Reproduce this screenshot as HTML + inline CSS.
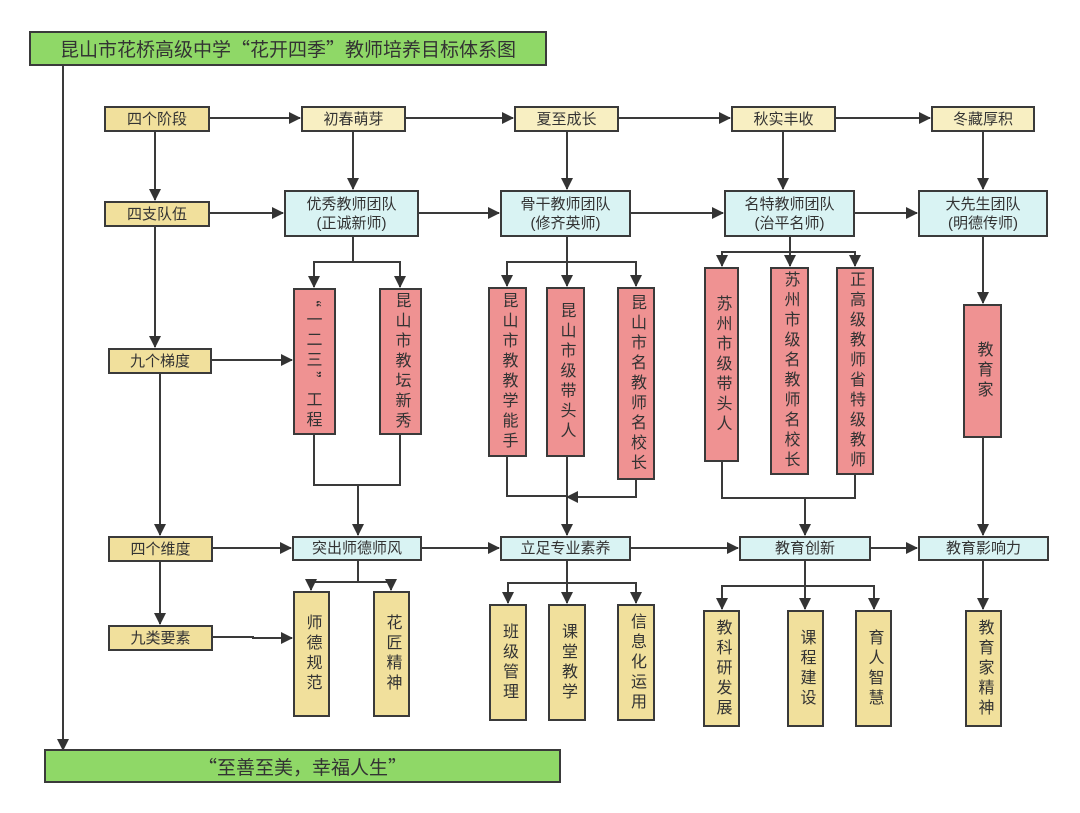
<!DOCTYPE html>
<html><head><meta charset="utf-8"><style>
body{margin:0;width:1080px;height:813px;background:#fff;position:relative;overflow:hidden;font-family:"Liberation Sans","Noto Sans CJK SC",sans-serif;color:#333}
.b{position:absolute;box-sizing:border-box;border:2px solid #3a3a3a;display:flex;align-items:center;justify-content:center;text-align:center;font-size:15px;line-height:19px}
.y{background:#f1e09c}.ly{background:#f8efc2}.c{background:#d9f3f3}.r{background:#ef9292}.g{background:#8fd867}
.v{writing-mode:vertical-rl;letter-spacing:4px;font-size:16px;white-space:nowrap;line-height:20px}
.cj{font-family:"Noto Sans CJK SC",sans-serif}
svg{position:absolute;left:0;top:0}
</style></head><body>
<svg width="1080" height="813">
<defs><marker id="a" markerWidth="12" markerHeight="12" refX="11" refY="6" orient="auto" markerUnits="userSpaceOnUse"><path d="M0,0L12,6L0,12z" fill="#333"/></marker></defs>
<g stroke="#3a3a3a" stroke-width="2" fill="none">
<path d="M314,435V485H400V435"/>
<path d="M507,457V496H567"/><path d="M636,480V497H567"/>
<path d="M722,462V498H855V475"/>
</g>
<g stroke="#3a3a3a" stroke-width="2" fill="none" marker-end="url(#a)">
<path d="M63,65V750"/>
<path d="M210,118H300"/><path d="M406,118H513"/><path d="M619,118H730"/><path d="M836,118H930"/>
<path d="M155,131V200"/><path d="M155,226V347"/><path d="M160,373V535"/><path d="M160,561V624"/>
<path d="M353,131V189"/><path d="M567,131V189"/><path d="M783,131V189"/><path d="M983,131V189"/>
<path d="M210,213H283"/><path d="M419,213H499"/><path d="M631,213H723"/><path d="M855,213H917"/>
<path d="M212,360H292"/>
<path d="M353,237V262H314V287"/><path d="M353,262H400V287"/>
<path d="M567,237V286"/><path d="M567,262H507V286"/><path d="M567,262H636V286"/>
<path d="M790,237V266"/><path d="M790,252H722V266"/><path d="M790,252H855V266"/>
<path d="M983,237V303"/>
<path d="M358,485V535"/>
<path d="M567,457V535"/>
<path d="M805,498V535"/>
<path d="M983,438V535"/>
<path d="M213,548H291"/><path d="M422,548H499"/><path d="M631,548H738"/><path d="M871,548H917"/>
<path d="M213,637H253V638H292"/>
<path d="M358,560V582H311V590"/><path d="M358,582H391V590"/>
<path d="M567,560V603"/><path d="M567,583H508V603"/><path d="M567,583H636V603"/>
<path d="M805,561V609"/><path d="M805,586H722V609"/><path d="M805,586H874V609"/>
<path d="M983,561V609"/>
</g>
<path d="M578,491L566,497L578,503z" fill="#333"/>
</svg>
<div class="b g cj" style="left:29px;top:31px;width:518px;height:35px;font-size:19px">昆山市花桥高级中学“花开四季”教师培养目标体系图</div>
<div class="b g cj" style="left:44px;top:749px;width:517px;height:34px;font-size:19px">“至善至美，幸福人生”</div>
<div class="b y" style="left:104px;top:106px;width:106px;height:26px">四个阶段</div>
<div class="b ly" style="left:301px;top:106px;width:105px;height:26px">初春萌芽</div>
<div class="b ly" style="left:514px;top:106px;width:105px;height:26px">夏至成长</div>
<div class="b ly" style="left:731px;top:106px;width:105px;height:26px">秋实丰收</div>
<div class="b ly" style="left:931px;top:106px;width:104px;height:26px">冬藏厚积</div>
<div class="b y" style="left:104px;top:201px;width:106px;height:26px">四支队伍</div>
<div class="b c" style="left:284px;top:190px;width:135px;height:47px">优秀教师团队<br>(正诚新师)</div>
<div class="b c" style="left:500px;top:190px;width:131px;height:47px">骨干教师团队<br>(修齐英师)</div>
<div class="b c" style="left:724px;top:190px;width:131px;height:47px">名特教师团队<br>(治平名师)</div>
<div class="b c" style="left:918px;top:190px;width:130px;height:47px">大先生团队<br>(明德传师)</div>
<div class="b y" style="left:108px;top:348px;width:104px;height:26px">九个梯度</div>
<div class="b r v cj" style="left:293px;top:288px;width:43px;height:147px">“一二三”工程</div>
<div class="b r v" style="left:379px;top:288px;width:43px;height:147px">昆山市教坛新秀</div>
<div class="b r v" style="left:488px;top:287px;width:39px;height:170px">昆山市教教学能手</div>
<div class="b r v" style="left:546px;top:287px;width:39px;height:170px">昆山市级带头人</div>
<div class="b r v" style="left:617px;top:287px;width:38px;height:193px">昆山市名教师名校长</div>
<div class="b r v" style="left:704px;top:267px;width:35px;height:195px">苏州市级带头人</div>
<div class="b r v" style="left:770px;top:267px;width:39px;height:208px">苏州市级名教师名校长</div>
<div class="b r v" style="left:836px;top:267px;width:38px;height:208px">正高级教师省特级教师</div>
<div class="b r v" style="left:963px;top:304px;width:39px;height:134px">教育家</div>
<div class="b y" style="left:108px;top:536px;width:105px;height:26px">四个维度</div>
<div class="b c" style="left:292px;top:536px;width:130px;height:25px">突出师德师风</div>
<div class="b c" style="left:500px;top:536px;width:131px;height:25px">立足专业素养</div>
<div class="b c" style="left:739px;top:536px;width:132px;height:25px">教育创新</div>
<div class="b c" style="left:918px;top:536px;width:131px;height:25px">教育影响力</div>
<div class="b y" style="left:108px;top:625px;width:105px;height:26px">九类要素</div>
<div class="b y v" style="left:293px;top:591px;width:37px;height:126px">师德规范</div>
<div class="b y v" style="left:373px;top:591px;width:37px;height:126px">花匠精神</div>
<div class="b y v" style="left:489px;top:604px;width:38px;height:117px">班级管理</div>
<div class="b y v" style="left:548px;top:604px;width:38px;height:117px">课堂教学</div>
<div class="b y v" style="left:617px;top:604px;width:38px;height:117px">信息化运用</div>
<div class="b y v" style="left:703px;top:610px;width:37px;height:117px">教科研发展</div>
<div class="b y v" style="left:787px;top:610px;width:37px;height:117px">课程建设</div>
<div class="b y v" style="left:855px;top:610px;width:37px;height:117px">育人智慧</div>
<div class="b y v" style="left:965px;top:610px;width:37px;height:117px">教育家精神</div>
</body></html>
